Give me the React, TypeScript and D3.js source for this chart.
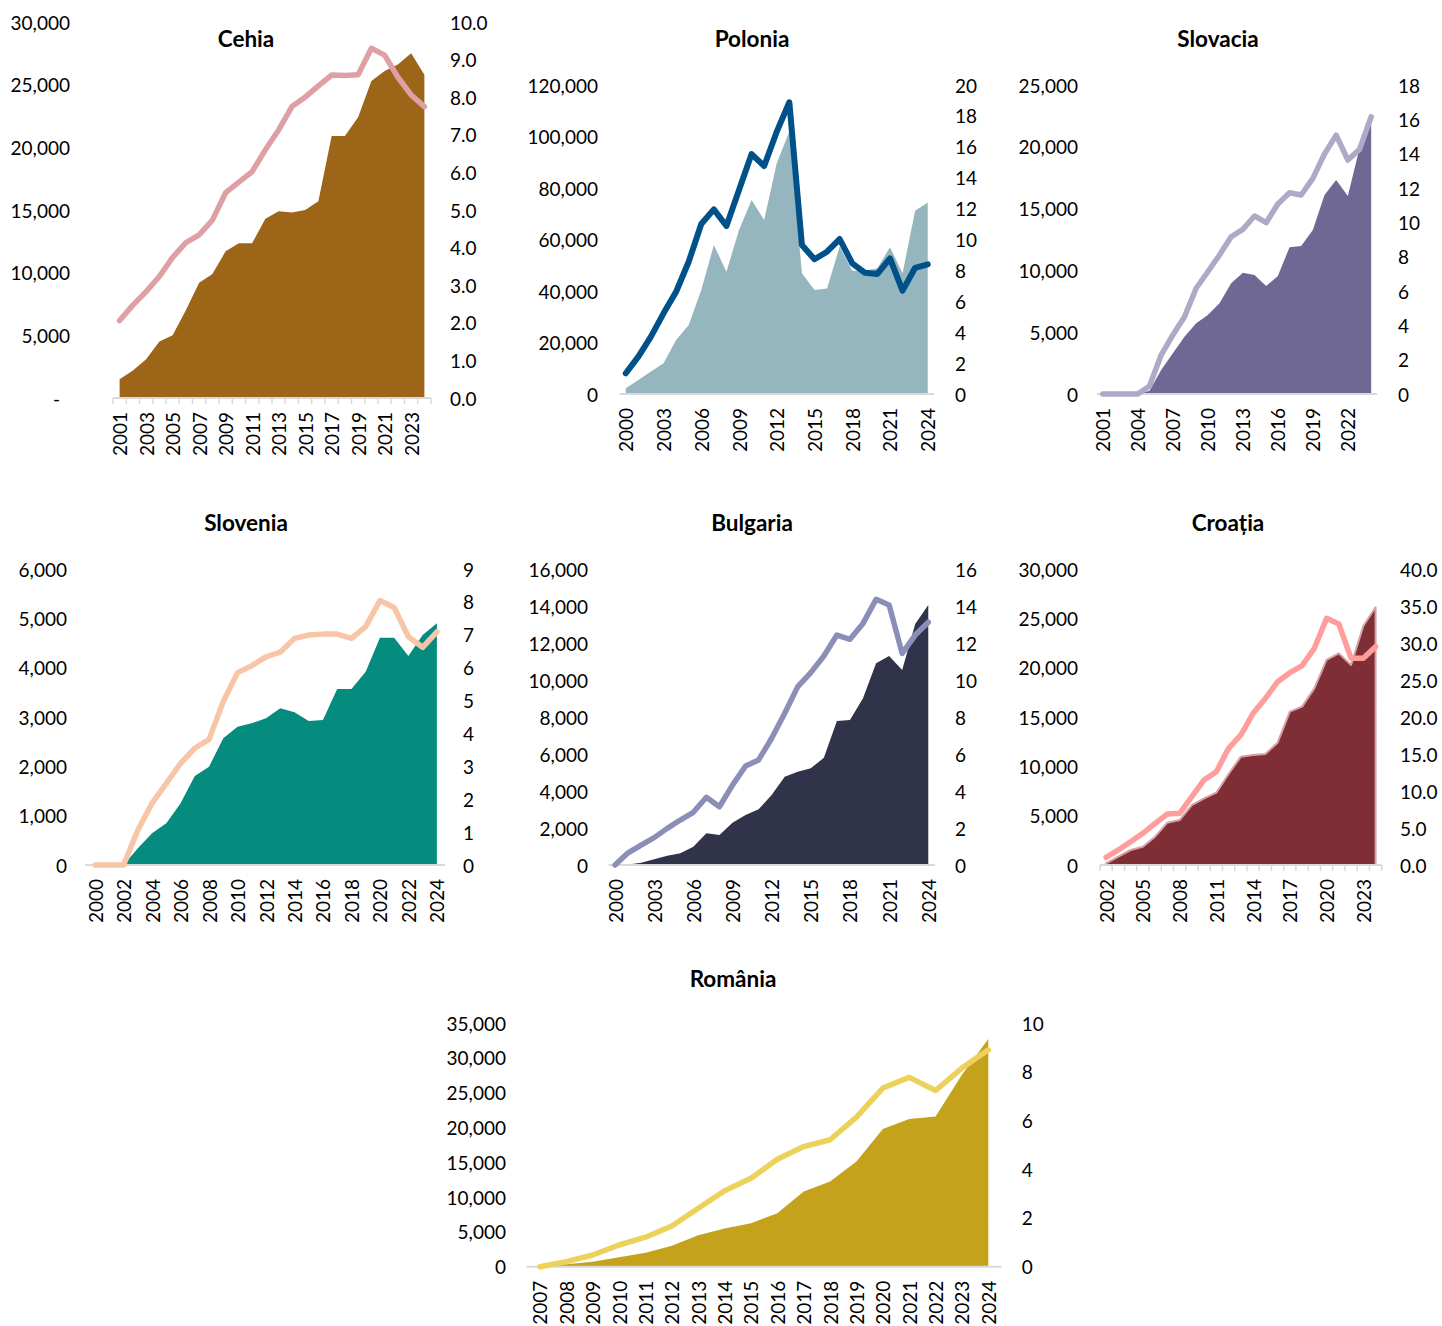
import React from "react";
import * as d3 from "d3";

// ---------- DATA ----------
const cehiaYears = [2001,2002,2003,2004,2005,2006,2007,2008,2009,2010,2011,2012,2013,2014,2015,2016,2017,2018,2019,2020,2021,2022,2023,2024];
const cehiaArea = [1500,2200,3100,4500,5000,7000,9200,9900,11700,12350,12350,14300,14900,14800,15000,15700,20900,20900,22400,25300,26100,26600,27500,25800];
const cehiaLine = [2.06,2.47,2.83,3.23,3.74,4.13,4.34,4.73,5.46,5.74,6.02,6.6,7.13,7.75,8.0,8.3,8.59,8.58,8.6,9.3,9.12,8.53,8.06,7.75];
const cehiaLeftTicks = [0,5000,10000,15000,20000,25000,30000];
const cehiaRightTicks = [0,1,2,3,4,5,6,7,8,9,10];

const poloniaYears = [2000,2001,2002,2003,2004,2005,2006,2007,2008,2009,2010,2011,2012,2013,2014,2015,2016,2017,2018,2019,2020,2021,2022,2023,2024];
const poloniaArea = [2200,5400,8700,11900,21000,26800,40400,57900,47500,63700,75300,67600,89600,101900,46900,40400,41000,57200,47900,47900,48800,57000,46900,71200,74400];
const poloniaLine = [1.34,2.42,3.71,5.22,6.62,8.56,11.0,11.95,10.87,13.2,15.53,14.76,16.98,18.88,9.64,8.72,9.21,10.03,8.46,7.85,7.77,8.78,6.69,8.17,8.39];
const poloniaLeftTicks = [0,20000,40000,60000,80000,100000,120000];
const poloniaRightTicks = [0,2,4,6,8,10,12,14,16,18,20];

const slovaciaYears = [2001,2002,2003,2004,2005,2006,2007,2008,2009,2010,2011,2012,2013,2014,2015,2016,2017,2018,2019,2020,2021,2022,2023,2024];
const slovaciaArea = [0,0,0,0,270,1940,3290,4640,5720,6390,7340,8960,9820,9630,8740,9550,11870,11970,13270,16100,17310,16020,19880,21900];
const slovaciaLine = [0,0,0,0,0.47,2.27,3.44,4.5,6.16,7.12,8.1,9.16,9.59,10.37,9.98,11.07,11.72,11.59,12.56,13.98,15.08,13.63,14.25,16.15];
const slovaciaLeftTicks = [0,5000,10000,15000,20000,25000];
const slovaciaRightTicks = [0,2,4,6,8,10,12,14,16,18];

const sloveniaYears = [2000,2001,2002,2003,2004,2005,2006,2007,2008,2009,2010,2011,2012,2013,2014,2015,2016,2017,2018,2019,2020,2021,2022,2023,2024];
const sloveniaArea = [0,0,0,338,642,845,1250,1804,1993,2568,2803,2872,2973,3176,3095,2919,2939,3567,3567,3918,4608,4608,4236,4662,4899];
const sloveniaLine = [0,0,0,1.06,1.88,2.48,3.09,3.55,3.82,4.97,5.85,6.06,6.33,6.47,6.89,6.99,7.02,7.02,6.89,7.25,8.04,7.83,6.94,6.62,7.09];
const sloveniaLeftTicks = [0,1000,2000,3000,4000,5000,6000];
const sloveniaRightTicks = [0,1,2,3,4,5,6,7,8,9];

const bulgariaYears = [2000,2001,2002,2003,2004,2005,2006,2007,2008,2009,2010,2011,2012,2013,2014,2015,2016,2017,2018,2019,2020,2021,2022,2023,2024];
const bulgariaArea = [0,30,126,306,504,631,991,1712,1622,2288,2703,3009,3784,4775,5045,5225,5800,7783,7837,9009,10900,11300,10540,13030,14050];
const bulgariaLine = [0,0.66,1.08,1.48,1.98,2.43,2.85,3.66,3.15,4.32,5.35,5.68,6.85,8.2,9.64,10.4,11.3,12.43,12.2,13.06,14.36,14.05,11.44,12.43,13.12];
const bulgariaLeftTicks = [0,2000,4000,6000,8000,10000,12000,14000,16000];
const bulgariaRightTicks = [0,2,4,6,8,10,12,14,16];

const croatiaYears = [2002,2003,2004,2005,2006,2007,2008,2009,2010,2011,2012,2013,2014,2015,2016,2017,2018,2019,2020,2021,2022,2023,2024];
const croatiaArea = [170,845,1520,1855,2870,4290,4560,6080,6760,7330,9220,10980,11150,11250,12400,15540,16050,17900,20780,21450,20270,24220,26120];
const croatiaLine = [1.04,2.03,3.15,4.28,5.63,6.89,6.98,9.23,11.49,12.61,15.77,17.57,20.5,22.5,24.77,25.99,26.94,29.28,33.33,32.57,27.93,27.93,29.5];
const croatiaLeftTicks = [0,5000,10000,15000,20000,25000,30000];
const croatiaRightTicks = [0,5,10,15,20,25,30,35,40];

const romaniaYears = [2007,2008,2009,2010,2011,2012,2013,2014,2015,2016,2017,2018,2019,2020,2021,2022,2023,2024];
const romaniaArea = [0,340,720,1350,2015,3020,4510,5470,6240,7680,10790,12230,15100,19760,21200,21580,27580,32710];
const romaniaLine = [0,0.21,0.48,0.89,1.21,1.67,2.4,3.12,3.63,4.41,4.93,5.21,6.14,7.33,7.77,7.23,8.15,8.9];
const romaniaLeftTicks = [0,5000,10000,15000,20000,25000,30000,35000];
const romaniaRightTicks = [0,2,4,6,8,10];

// ---------- LAYOUT ----------
const FONT = "Lato, 'Open Sans', sans-serif";
const TICK_FS = 19;
const TITLE_FS = 22.5;

type PanelProps = {
  title: string;
  titleX: number;
  titleY: number;
  years: number[];
  area: number[];
  line: number[];
  leftTicks: number[];
  rightTicks: number[];
  x0: number;
  x1: number;
  yTop: number;
  yBase: number;
  leftLabelX: number;
  rightLabelX: number;
  rightFmt: string;
  zeroDash?: boolean;
  labelEvery: number;
  tickMarks?: boolean;
  areaColor: string;
  areaStroke?: string;
  lineColor: string;
  lineWidth: number;
  axisX0?: number;
  axisX1?: number;
};

function Panel(p: PanelProps) {
  const cats = p.years.map(String);
  const x = d3.scaleBand<string>().domain(cats).range([p.x0, p.x1]).padding(0);
  const cx = (i: number) => (x(cats[i]) as number) + x.bandwidth() / 2;
  const leftMax = p.leftTicks[p.leftTicks.length - 1];
  const rightMax = p.rightTicks[p.rightTicks.length - 1];
  const yL = d3.scaleLinear().domain([0, leftMax]).range([p.yBase, p.yTop]);
  const yR = d3.scaleLinear().domain([0, rightMax]).range([p.yBase, p.yTop]);

  const areaGen = d3
    .area<number>()
    .x((_, i) => cx(i))
    .y0(p.yBase)
    .y1((d) => yL(d));
  const lineGen = d3
    .line<number>()
    .x((_, i) => cx(i))
    .y((d) => yR(d));

  const leftFmt = d3.format(",");
  const rightFmt = d3.format(p.rightFmt);
  const ax0 = p.axisX0 ?? p.x0;
  const ax1 = p.axisX1 ?? p.x1;

  return (
    <g>
      <text
        x={p.titleX}
        y={p.titleY}
        textAnchor="middle"
        dominantBaseline="central"
        fontFamily={FONT}
        fontWeight="bold"
        fontSize={TITLE_FS}
        fill="#000"
      >
        {p.title}
      </text>
      <path
        d={areaGen(p.area) || ""}
        fill={p.areaColor}
        stroke={p.areaStroke || "none"}
        strokeWidth={p.areaStroke ? 2 : 0}
        strokeLinejoin="round"
      />
      <line x1={ax0} x2={ax1} y1={p.yBase} y2={p.yBase} stroke="#D9D9D9" strokeWidth={2} />
      {p.tickMarks &&
        d3.range(cats.length + 1).map((i) => {
          const xx = p.x0 + i * x.bandwidth();
          return (
            <line key={"tm" + i} x1={xx} x2={xx} y1={p.yBase} y2={p.yBase + 6} stroke="#D9D9D9" strokeWidth={1.5} />
          );
        })}
      <path
        d={lineGen(p.line) || ""}
        fill="none"
        stroke={p.lineColor}
        strokeWidth={p.lineWidth}
        strokeLinejoin="round"
        strokeLinecap="round"
      />
      {p.leftTicks.map((t) => (
        <text
          key={"l" + t}
          x={t === 0 && p.zeroDash ? p.leftLabelX - 10 : p.leftLabelX}
          y={yL(t)}
          textAnchor="end"
          dominantBaseline="central"
          fontFamily={FONT}
          fontSize={TICK_FS}
          fill="#000"
        >
          {t === 0 && p.zeroDash ? "-" : leftFmt(t)}
        </text>
      ))}
      {p.rightTicks.map((t) => (
        <text
          key={"r" + t}
          x={p.rightLabelX}
          y={yR(t)}
          textAnchor="start"
          dominantBaseline="central"
          fontFamily={FONT}
          fontSize={TICK_FS}
          fill="#000"
        >
          {rightFmt(t)}
        </text>
      ))}
      {cats.map((c, i) =>
        i % p.labelEvery === 0 ? (
          <text
            key={"x" + c}
            transform={`translate(${cx(i)},${p.yBase + 14}) rotate(-90)`}
            textAnchor="end"
            dominantBaseline="central"
            fontFamily={FONT}
            fontSize={TICK_FS}
            fill="#000"
          >
            {c}
          </text>
        ) : null
      )}
    </g>
  );
}

export default function App() {
  return (
    <svg
      width={1442}
      height={1326}
      style={{ position: "absolute", left: 0, top: 0, background: "#fff" }}
    >
      <rect x={0} y={0} width={1442} height={1326} fill="#fff" />
      <Panel
        title="Cehia" titleX={246} titleY={38}
        years={cehiaYears} area={cehiaArea} line={cehiaLine}
        leftTicks={cehiaLeftTicks} rightTicks={cehiaRightTicks}
        x0={113} x1={431} yTop={22} yBase={398}
        leftLabelX={70} rightLabelX={450} rightFmt=".1f" zeroDash
        labelEvery={2} tickMarks
        areaColor="#9C6518" lineColor="#DE9FA5" lineWidth={5.5}
      />
      <Panel
        title="Polonia" titleX={752} titleY={38}
        years={poloniaYears} area={poloniaArea} line={poloniaLine}
        leftTicks={poloniaLeftTicks} rightTicks={poloniaRightTicks}
        x0={619.5} x1={934} yTop={85} yBase={394}
        leftLabelX={598} rightLabelX={955} rightFmt="d"
        labelEvery={3}
        areaColor="#95B6BE" lineColor="#00518A" lineWidth={6}
      />
      <Panel
        title="Slovacia" titleX={1218} titleY={38}
        years={slovaciaYears} area={slovaciaArea} line={slovaciaLine}
        leftTicks={slovaciaLeftTicks} rightTicks={slovaciaRightTicks}
        x0={1097} x1={1377} yTop={85} yBase={394}
        leftLabelX={1078} rightLabelX={1398} rightFmt="d"
        labelEvery={3}
        areaColor="#706894" lineColor="#ADA9C6" lineWidth={5.5}
      />
      <Panel
        title="Slovenia" titleX={246} titleY={522}
        years={sloveniaYears} area={sloveniaArea} line={sloveniaLine}
        leftTicks={sloveniaLeftTicks} rightTicks={sloveniaRightTicks}
        x0={88} x1={444} yTop={569} yBase={865}
        leftLabelX={67} rightLabelX={463} rightFmt="d"
        labelEvery={2} axisX0={85} axisX1={445}
        areaColor="#068B7F" lineColor="#F9C5A7" lineWidth={5.5}
      />
      <Panel
        title="Bulgaria" titleX={752} titleY={522}
        years={bulgariaYears} area={bulgariaArea} line={bulgariaLine}
        leftTicks={bulgariaLeftTicks} rightTicks={bulgariaRightTicks}
        x0={608.5} x1={934.8} yTop={569} yBase={865}
        leftLabelX={588} rightLabelX={955} rightFmt="d"
        labelEvery={3}
        areaColor="#31334A" lineColor="#8B8FB8" lineWidth={5.5}
      />
      <Panel
        title="Croația" titleX={1228} titleY={522}
        years={croatiaYears} area={croatiaArea} line={croatiaLine}
        leftTicks={croatiaLeftTicks} rightTicks={croatiaRightTicks}
        x0={1100} x1={1381.7} yTop={569} yBase={865}
        leftLabelX={1078} rightLabelX={1400} rightFmt=".1f"
        labelEvery={3} tickMarks
        areaColor="#7F2E36" areaStroke="#D8A0A4" lineColor="#FF9C9C" lineWidth={5.5}
      />
      <Panel
        title="România" titleX={733} titleY={978}
        years={romaniaYears} area={romaniaArea} line={romaniaLine}
        leftTicks={romaniaLeftTicks} rightTicks={romaniaRightTicks}
        x0={526.8} x1={1001.5} yTop={1023} yBase={1266.7}
        leftLabelX={506} rightLabelX={1021.7} rightFmt="d"
        labelEvery={1}
        areaColor="#C4A21B" lineColor="#ECD25A" lineWidth={5.5}
      />
    </svg>
  );
}
